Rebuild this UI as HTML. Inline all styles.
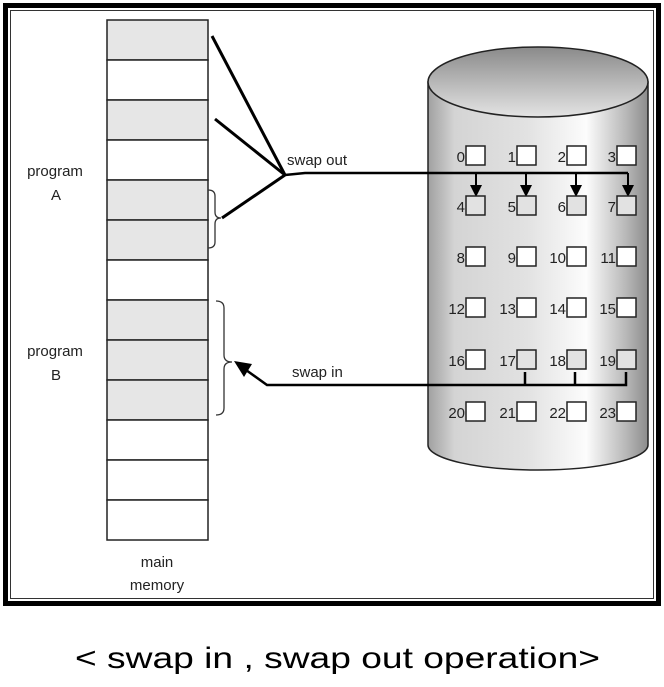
<!DOCTYPE html>
<html><head><meta charset="utf-8"><style>
body{margin:0;background:#fff;width:664px;height:682px;overflow:hidden}
svg text{font-family:"Liberation Sans",sans-serif}
</style></head><body>
<svg width="664" height="682" xmlns="http://www.w3.org/2000/svg">
<defs>
<linearGradient id="cyl" x1="0" x2="1" y1="0" y2="0">
<stop offset="0" stop-color="#a0a0a0"/><stop offset="0.12" stop-color="#d4d4d4"/>
<stop offset="0.45" stop-color="#e2e2e2"/><stop offset="0.72" stop-color="#fcfcfc"/>
<stop offset="0.9" stop-color="#b8b8b8"/><stop offset="1" stop-color="#8c8c8c"/></linearGradient>
<linearGradient id="top" x1="0" x2="0" y1="0" y2="1">
<stop offset="0" stop-color="#8a8a8a"/><stop offset="1" stop-color="#e4e4e4"/></linearGradient>
<marker id="ah" markerWidth="12" markerHeight="12" refX="10" refY="6" orient="auto" markerUnits="userSpaceOnUse"><path d="M0,0 L12,6 L0,12 z" fill="#000"/></marker>
</defs>
<rect x="5.5" y="5.5" width="653" height="598" fill="none" stroke="#000" stroke-width="5"/>
<rect x="10.5" y="10.5" width="643" height="588" fill="none" stroke="#333" stroke-width="1"/>
<g stroke="#222" stroke-width="1.5">
<rect x="107" y="20" width="101" height="40" fill="#e6e6e6"/>
<rect x="107" y="60" width="101" height="40" fill="#fff"/>
<rect x="107" y="100" width="101" height="40" fill="#e6e6e6"/>
<rect x="107" y="140" width="101" height="40" fill="#fff"/>
<rect x="107" y="180" width="101" height="40" fill="#e6e6e6"/>
<rect x="107" y="220" width="101" height="40" fill="#e6e6e6"/>
<rect x="107" y="260" width="101" height="40" fill="#fff"/>
<rect x="107" y="300" width="101" height="40" fill="#e6e6e6"/>
<rect x="107" y="340" width="101" height="40" fill="#e6e6e6"/>
<rect x="107" y="380" width="101" height="40" fill="#e6e6e6"/>
<rect x="107" y="420" width="101" height="40" fill="#fff"/>
<rect x="107" y="460" width="101" height="40" fill="#fff"/>
<rect x="107" y="500" width="101" height="40" fill="#fff"/>
</g>
<g font-size="15" fill="#222" text-anchor="middle">
<text x="55" y="176">program</text><text x="56" y="200">A</text>
<text x="55" y="356">program</text><text x="56" y="380">B</text>
<text x="157" y="567">main</text><text x="157" y="590">memory</text>
</g>
<path d="M428,82 L428,445 A110,25 0 0 0 648,445 L648,82 Z" fill="url(#cyl)" stroke="#222" stroke-width="1.5"/>
<ellipse cx="538" cy="82" rx="110" ry="35" fill="url(#top)" stroke="#222" stroke-width="1.5"/>
<g stroke="#000" stroke-width="3" fill="none">
<line x1="212" y1="36" x2="285" y2="175"/>
<line x1="215" y1="119" x2="285" y2="175"/>
<line x1="222" y1="218" x2="285" y2="175"/>
<polyline points="285,175 305,173 628,173" stroke-width="2.5"/>
</g>
<path d="M208,190 Q215,190 215,196 L215,212 Q215,218 221,218 Q215,218 215,224 L215,242 Q215,248 208,248" fill="none" stroke="#333" stroke-width="1.3"/>
<path d="M216,301 Q224,301 224,308 L224,355 Q224,362 232,362 Q224,362 224,369 L224,408 Q224,415 216,415" fill="none" stroke="#333" stroke-width="1.3"/>
<g stroke="#000" stroke-width="2">
<line x1="476" y1="173" x2="476" y2="195" marker-end="url(#ah)"/>
<line x1="526" y1="173" x2="526" y2="195" marker-end="url(#ah)"/>
<line x1="576" y1="173" x2="576" y2="195" marker-end="url(#ah)"/>
<line x1="628" y1="173" x2="628" y2="195" marker-end="url(#ah)"/>
</g>
<g stroke="#000" stroke-width="2.5" fill="none">
<polyline points="626,372 626,385 267,385 246,370"/>
<line x1="525" y1="372" x2="525" y2="385"/>
<line x1="575" y1="372" x2="575" y2="385"/>
</g>
<path d="M234,361 L252,364 L244,377 Z" fill="#000"/>
<g font-size="15" fill="#222">
<text x="287" y="165">swap out</text>
<text x="292" y="377">swap in</text>
</g>
<g stroke="#222" stroke-width="1.5">
<g fill="#fff">
<rect x="466" y="146" width="19" height="19"/><rect x="517" y="146" width="19" height="19"/><rect x="567" y="146" width="19" height="19"/><rect x="617" y="146" width="19" height="19"/>
</g>
<g fill="#e2e2e2">
<rect x="466" y="196" width="19" height="19"/><rect x="517" y="196" width="19" height="19"/><rect x="567" y="196" width="19" height="19"/><rect x="617" y="196" width="19" height="19"/>
</g>
<g fill="#fff">
<rect x="466" y="247" width="19" height="19"/><rect x="517" y="247" width="19" height="19"/><rect x="567" y="247" width="19" height="19"/><rect x="617" y="247" width="19" height="19"/>
<rect x="466" y="298" width="19" height="19"/><rect x="517" y="298" width="19" height="19"/><rect x="567" y="298" width="19" height="19"/><rect x="617" y="298" width="19" height="19"/>
<rect x="466" y="350" width="19" height="19"/>
<rect x="466" y="402" width="19" height="19"/><rect x="517" y="402" width="19" height="19"/><rect x="567" y="402" width="19" height="19"/><rect x="617" y="402" width="19" height="19"/>
</g>
<g fill="#e2e2e2">
<rect x="517" y="350" width="19" height="19"/><rect x="567" y="350" width="19" height="19"/><rect x="617" y="350" width="19" height="19"/>
</g>
</g>
<g font-size="15" fill="#222" text-anchor="end">
<text x="465" y="162">0</text><text x="516" y="162">1</text><text x="566" y="162">2</text><text x="616" y="162">3</text>
<text x="465" y="212">4</text><text x="516" y="212">5</text><text x="566" y="212">6</text><text x="616" y="212">7</text>
<text x="465" y="263">8</text><text x="516" y="263">9</text><text x="566" y="263">10</text><text x="616" y="263">11</text>
<text x="465" y="314">12</text><text x="516" y="314">13</text><text x="566" y="314">14</text><text x="616" y="314">15</text>
<text x="465" y="366">16</text><text x="516" y="366">17</text><text x="566" y="366">18</text><text x="616" y="366">19</text>
<text x="465" y="418">20</text><text x="516" y="418">21</text><text x="566" y="418">22</text><text x="616" y="418">23</text>
</g>
<text x="75" y="668" font-size="30" textLength="525" lengthAdjust="spacingAndGlyphs" fill="#000">&lt; swap in , swap out  operation&gt;</text>
</svg>
</body></html>
